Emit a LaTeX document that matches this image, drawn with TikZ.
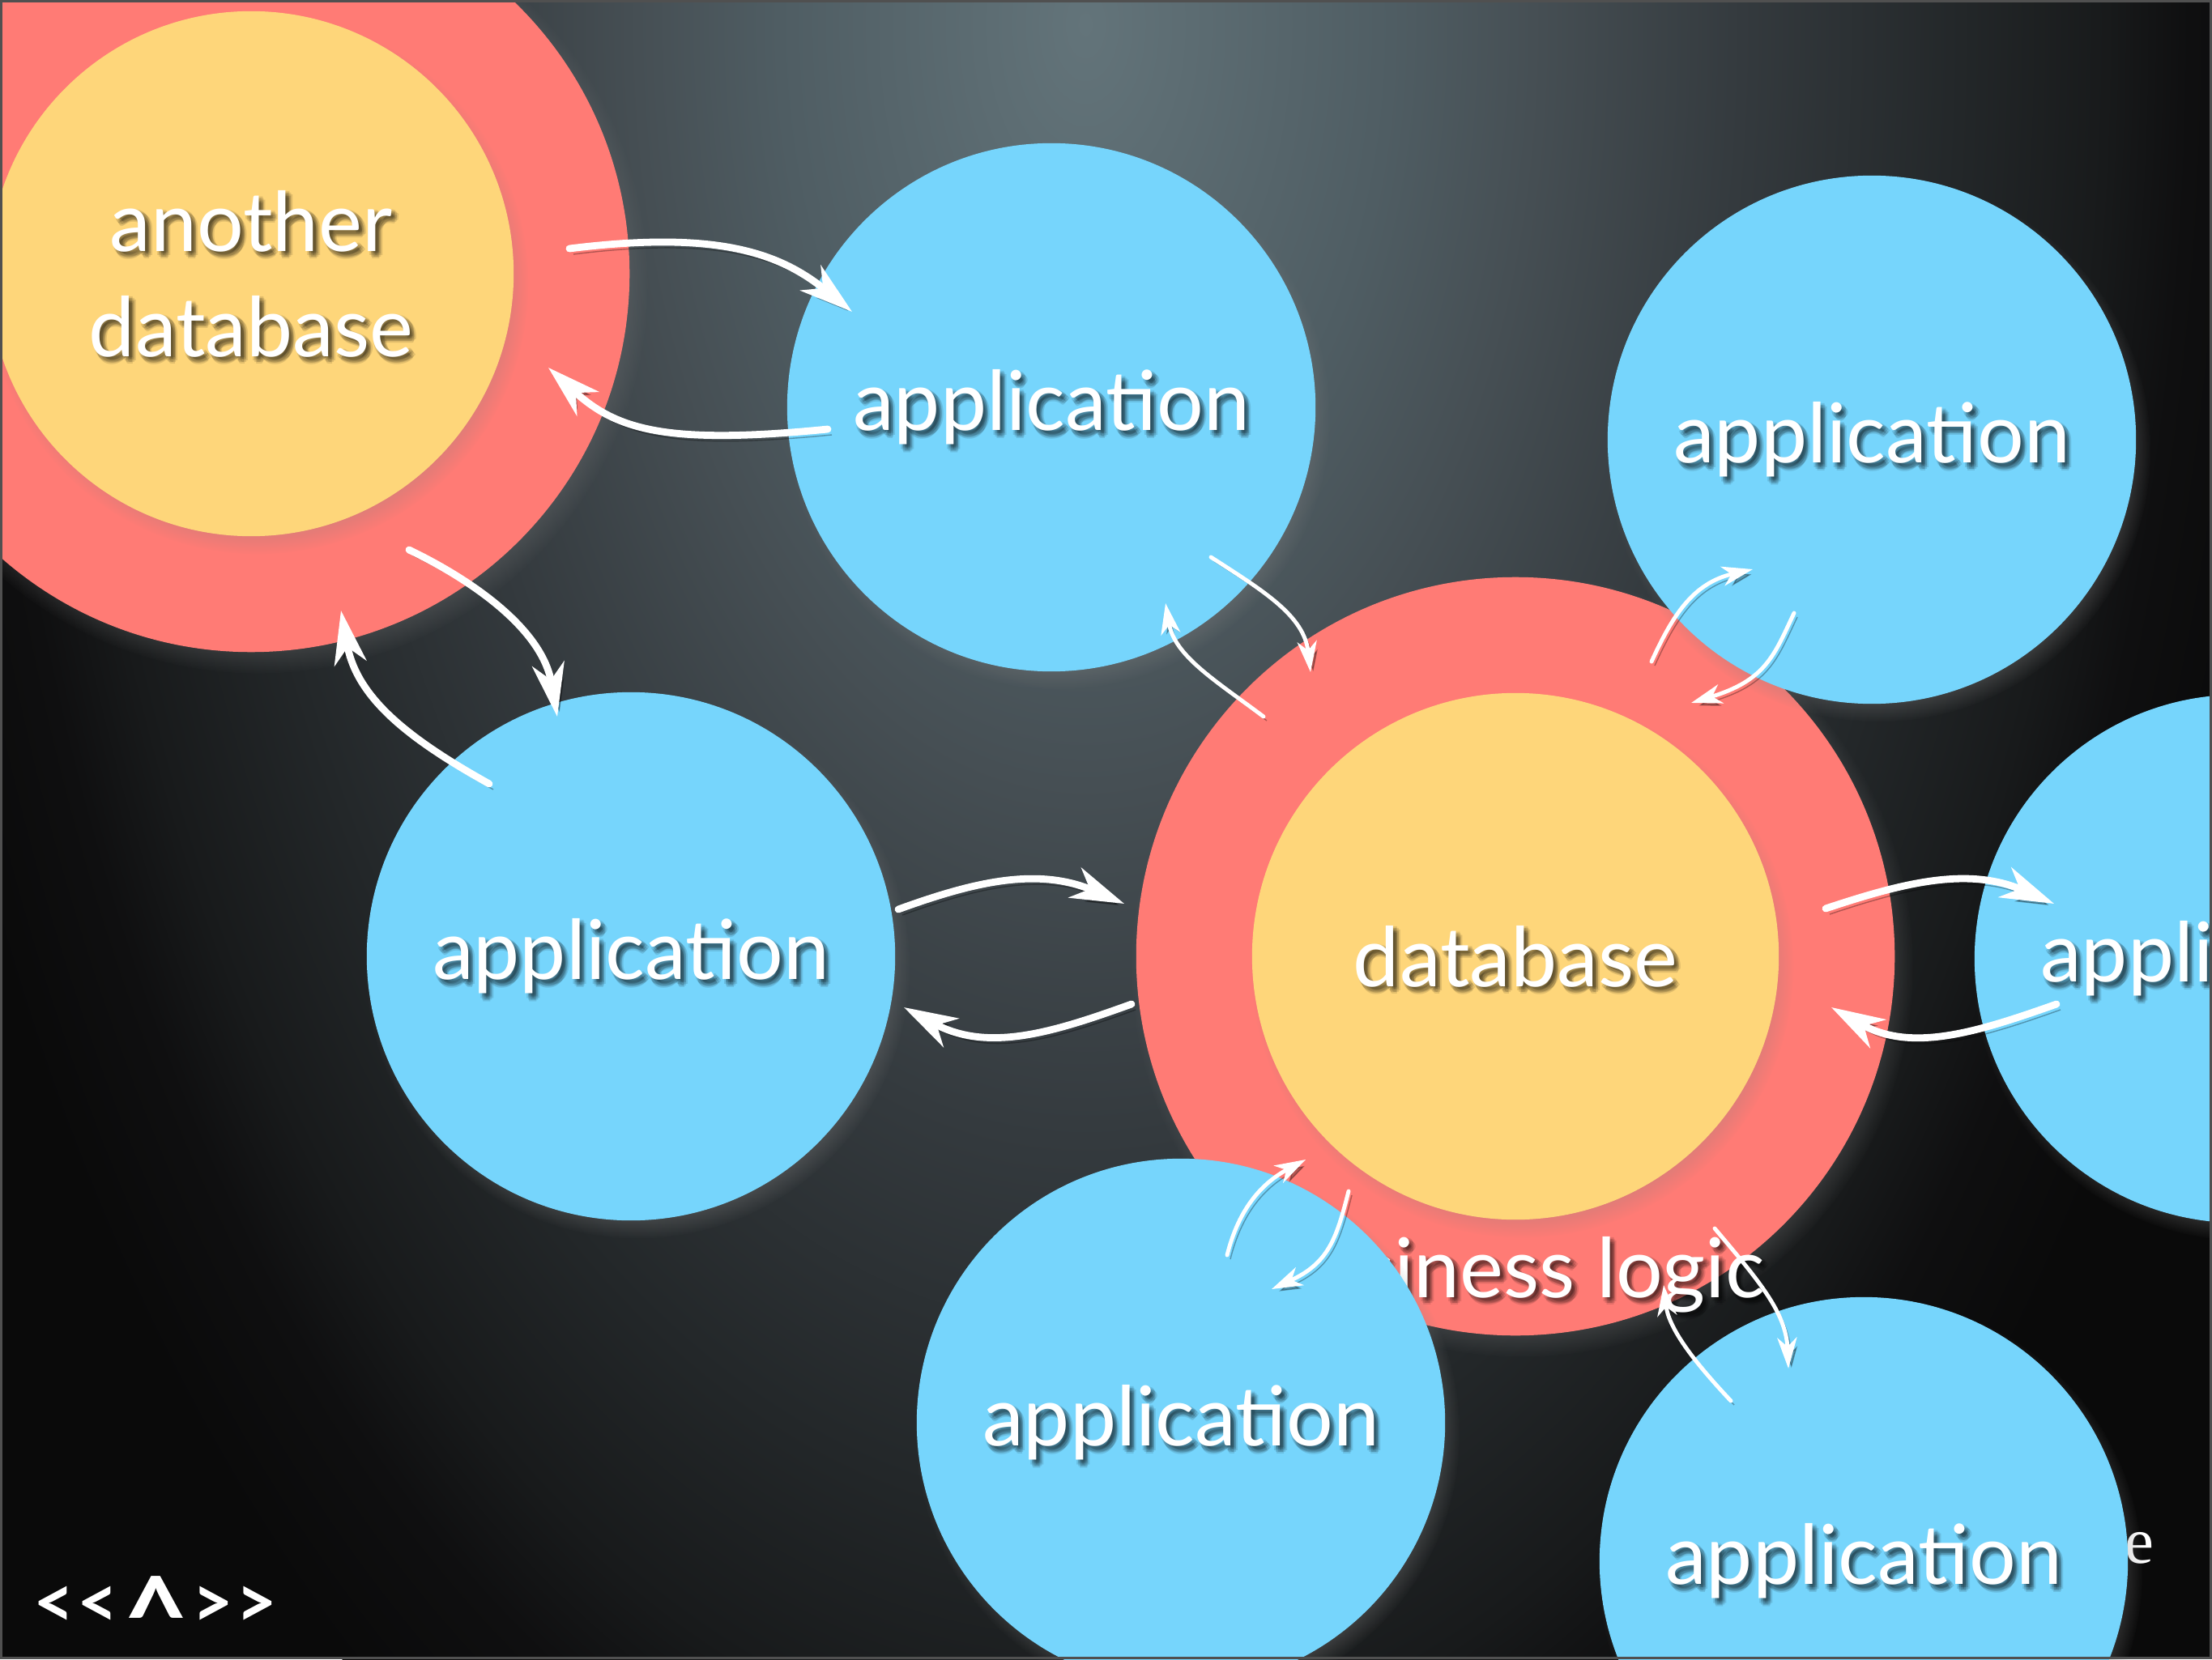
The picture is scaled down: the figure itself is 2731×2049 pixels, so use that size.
\documentclass[tikz,border=0pt]{standalone}
\usepackage{fontspec}
\setmainfont{Lato}
\newfontfamily\serifont{Liberation Serif}
\usetikzlibrary{arrows.meta,shadows}
\definecolor{cblue}{RGB}{118,213,252}
\definecolor{cyellow}{RGB}{254,214,122}
\definecolor{cred}{RGB}{255,123,117}
\definecolor{bgA}{RGB}{99,116,122}
\definecolor{bgB}{RGB}{79,93,99}
\definecolor{bgC}{RGB}{70,79,84}
\definecolor{bgD}{RGB}{52,58,62}
\definecolor{bgE}{RGB}{35,39,41}
\definecolor{bgF}{RGB}{24,26,27}
\definecolor{bgG}{RGB}{15,15,16}
\definecolor{bgH}{RGB}{10,10,10}
\definecolor{framec}{RGB}{80,80,80}
\pgfdeclareradialshading{bgshade}{\pgfpoint{0bp}{0bp}}{color(0bp)=(bgA); color(6.3bp)=(bgB); color(9.2bp)=(bgC); color(13.5bp)=(bgD); color(18bp)=(bgE); color(21bp)=(bgF); color(22.7bp)=(bgG); color(25bp)=(bgH); color(50bp)=(bgH)}
\newcommand{\shtext}[4][]{%
  \foreach \dx/\dy in {0.035/-0.035, 0.065/-0.035, 0.035/-0.075, 0.065/-0.075, 0.015/-0.055, 0.085/-0.055, 0.05/-0.015, 0.05/-0.095} {
    \node[txt,#1,text=black,opacity=0.11] at ([shift={(\dx cm,\dy cm)}]#2) {#4};}
  \node[txt,#1] (#3) at (#2) {#4};}
\newcommand{\chev}[1]{\scalebox{1.13}[1.17]{#1}}
\begin{document}
\begin{tikzpicture}[x=0.01cm, y=-0.01cm,
  ring/.style={circle, inner sep=0pt, fill=cred, minimum size=9.34cm,
    circular drop shadow={shadow xshift=0.08cm, shadow yshift=-0.12cm, shadow scale=1.03, opacity=0.6}},
  core/.style={circle, inner sep=0pt, fill=cyellow, minimum size=6.5cm,
    circular drop shadow={shadow xshift=0.08cm, shadow yshift=-0.12cm, shadow scale=1.03, opacity=0.45}},
  appc/.style={circle, inner sep=0pt, fill=cblue, minimum size=6.52cm,
    circular drop shadow={shadow xshift=0.08cm, shadow yshift=-0.12cm, shadow scale=1.03, opacity=0.6}},
  txt/.style={text=white, align=center, inner sep=0pt, font=\fontsize{29}{37}\selectfont},
  bigarrow/.style={draw=white, line width=2.5pt, line cap=round,
    -{Stealth[length=0.66cm, width=0.40cm, inset=0.2cm]},
    preaction={draw=black, opacity=0.3, transform canvas={shift={(0.05cm,-0.07cm)}}}},
  smallarrow/.style={draw=white, line width=1.4pt, line cap=round,
    -{Stealth[length=0.38cm, width=0.24cm, inset=0.11cm]},
    preaction={draw=black, opacity=0.3, transform canvas={shift={(0.04cm,-0.05cm)}}}},
  navtxt/.style={text=white, inner sep=0pt, font=\fontsize{22}{22}\selectfont\bfseries}
]
\useasboundingbox (0,0) rectangle (2731,2049);
% background
\begin{scope}
  \clip (0,0) rectangle (2731,2049);
  \fill[bgH] (0,0) rectangle (2731,2049);
  \shade[shading=bgshade] (1340,30) ellipse[x radius=15cm, y radius=25.5cm];
\end{scope}
% another database
\node[ring] (adbR) at (310,338) {};
\node[core, minimum size=6.48cm] (adb) at (310,338) {};
% database
\node[ring, minimum size=9.36cm] (dbR) at (1871,1181) {};
\node[core] (db) at (1871,1181) {};
% business logic label (partly covered)
\shtext[anchor=base]{1871,1602}{blogic}{business logic}
% hidden text fragment
\node[text=white, inner sep=0pt, font=\fontsize{23}{23}\serifont] (frag) at (2641,1912) {e};
% application circles
\node[appc] (app1) at (1298,503) {};
\node[appc] (app2) at (2311,543) {};
\node[appc] (app3) at (779,1181) {};
\node[appc] (app4) at (2764,1184) {};
\node[appc] (app5) at (1458,1757) {};
\node[appc] (app6) at (2301,1928) {};
% texts
\shtext{adb.center}{adbT}{another\\database}
\shtext{db.center}{dbT}{database}
\shtext{app1.center}{app1T}{application}
\shtext{app2.center}{app2T}{application}
\shtext{app3.center}{app3T}{application}
\shtext{app4.center}{app4T}{application}
\shtext{app5.center}{app5T}{application}
\shtext{app6.center}{app6T}{application}
% arrow end points
\coordinate (a1s) at (703,307);   \coordinate (a1e) at (1052,385);
\coordinate (a2s) at (1022,530);  \coordinate (a2e) at (677,454);
\coordinate (a3s) at (505,679);   \coordinate (a3e) at (688,885);
\coordinate (a4s) at (604,968);   \coordinate (a4e) at (421,754);
\coordinate (a5s) at (1109,1123); \coordinate (a5e) at (1388,1116);
\coordinate (a6s) at (1397,1240); \coordinate (a6e) at (1116,1244);
\coordinate (a7s) at (2254,1122); \coordinate (a7e) at (2536,1116);
\coordinate (a8s) at (2539,1240); \coordinate (a8e) at (2261,1244);
\coordinate (a9s) at (1495,688);  \coordinate (a9e) at (1618,830);
\coordinate (a10s) at (1560,885); \coordinate (a10e) at (1439,745);
\coordinate (a11s) at (2039,817); \coordinate (a11e) at (2164,703);
\coordinate (a12s) at (2215,757); \coordinate (a12e) at (2088,868);
\coordinate (a13s) at (1515,1550); \coordinate (a13e) at (1612,1432);
\coordinate (a14s) at (1665,1471); \coordinate (a14e) at (1570,1592);
\coordinate (a15s) at (2117,1517); \coordinate (a15e) at (2208,1690);
\coordinate (a16s) at (2137,1730); \coordinate (a16e) at (2054,1587);
% big arrows
\draw[bigarrow] (a1s) .. controls (880,285) and (960,310) .. (a1e);
\draw[bigarrow] (a2s) .. controls (820,550) and (760,530) .. (a2e);
\draw[bigarrow] (a3s) .. controls (590,720) and (670,780) .. (a3e);
\draw[bigarrow] (a4s) .. controls (500,910) and (440,860) .. (a4e);
\draw[bigarrow] (a5s) .. controls (1200,1090) and (1280,1070) .. (a5e);
\draw[bigarrow] (a6s) .. controls (1300,1275) and (1220,1300) .. (a6e);
\draw[bigarrow] (a7s) .. controls (2350,1090) and (2430,1070) .. (a7e);
\draw[bigarrow] (a8s) .. controls (2440,1275) and (2360,1300) .. (a8e);
% small arrows
\draw[smallarrow] (a9s) .. controls (1560,730) and (1610,760) .. (a9e);
\draw[smallarrow] (a10s) .. controls (1500,840) and (1450,810) .. (a10e);
\draw[smallarrow] (a11s) .. controls (2065,760) and (2090,720) .. (a11e);
\draw[smallarrow] (a12s) .. controls (2190,810) and (2180,840) .. (a12e);
\draw[smallarrow] (a13s) .. controls (1530,1490) and (1560,1460) .. (a13e);
\draw[smallarrow] (a14s) .. controls (1650,1530) and (1640,1560) .. (a14e);
\draw[smallarrow] (a15s) .. controls (2170,1580) and (2205,1620) .. (a15e);
\draw[smallarrow] (a16s) .. controls (2090,1680) and (2060,1640) .. (a16e);
% navigation
\node[navtxt] (nav) at (192,1996) {\chev{<}\kern1pt\chev{<}\hspace{1.8pt}\raisebox{-0.44em}{\scalebox{1.8}[1.75]{\textasciicircum}}\hspace{1.2pt}\chev{>}\kern1pt\chev{>}};
% slide frame
\draw[framec, line width=0.8pt] (1.5,1.5) rectangle (2729.5,2047.5);
\end{tikzpicture}
\end{document}
